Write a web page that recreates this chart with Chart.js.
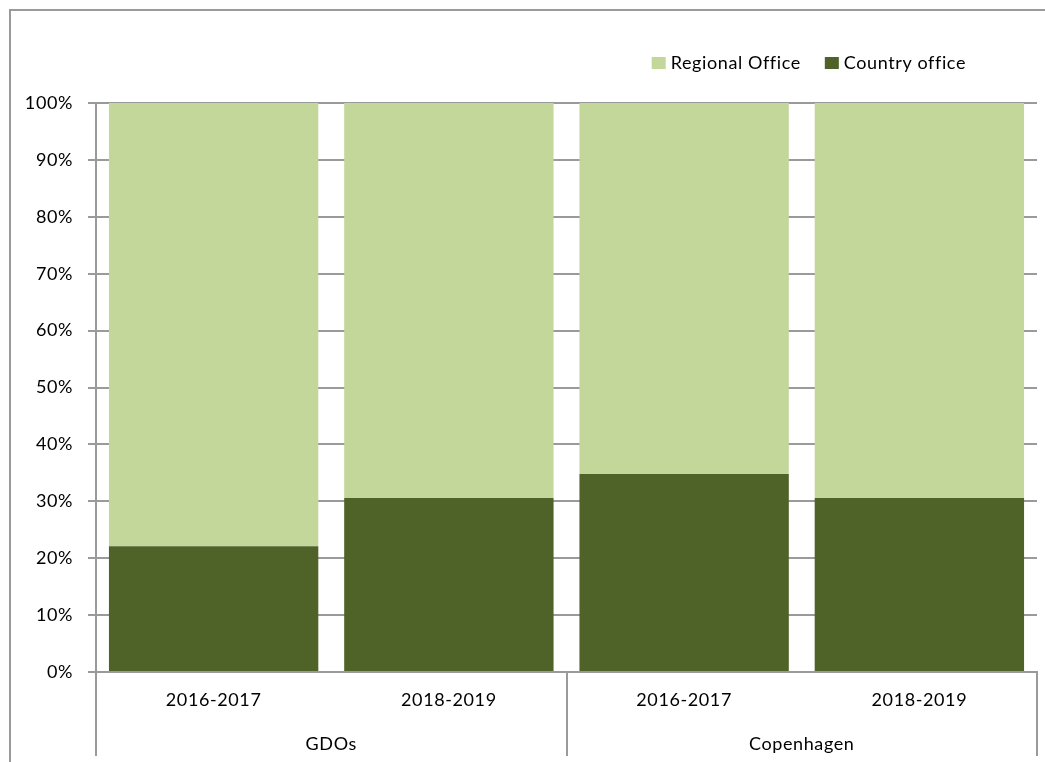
<!DOCTYPE html>
<html><head><meta charset="utf-8">
<script src="https://cdn.jsdelivr.net/npm/chart.js@4.4.1/dist/chart.umd.min.js"></script>
<style>html,body{margin:0;padding:0;background:#fff}#wrap{position:relative;width:1045px;height:762px}</style>
</head><body><div id="wrap"><canvas id="c"></canvas></div>
<script>
const periods = ['2016-2017', '2018-2019', '2016-2017', '2018-2019'];
const groups = ['GDOs', 'Copenhagen'];
const groupOf = [0, 0, 1, 1];
const countryOffice = [22.1, 30.6, 34.8, 30.6];
const regionalOffice = [77.9, 69.4, 65.2, 69.4];
const seriesNames = ['Country office', 'Regional Office'];
const legendOrder = [1, 0];

const FONT = 'Lato, "Open Sans", sans-serif';
const FS = 18;
const LS = '0.6px';
const GRID = '#9a9a9a';

const spacingPlugin = {
  id: 'spacing',
  beforeUpdate(chart) { chart.ctx.letterSpacing = LS; },
  beforeDraw(chart) { chart.ctx.letterSpacing = LS; }
};

const framePlugin = {
  id: 'frame',
  beforeDraw(chart) {
    const ctx = chart.ctx;
    ctx.save();
    ctx.fillStyle = '#fff';
    ctx.fillRect(0, 0, chart.width, chart.height);
    ctx.strokeStyle = GRID;
    ctx.lineWidth = 2;
    ctx.beginPath();
    ctx.moveTo(10, chart.height);
    ctx.lineTo(10, 10);
    ctx.lineTo(chart.width, 10);
    ctx.stroke();
    ctx.restore();
  }
};

const groupAxisPlugin = {
  id: 'groupAxis',
  afterDraw(chart) {
    const xs = chart.scales.x, area = chart.chartArea, ctx = chart.ctx;
    const half = (xs.getPixelForValue(1) - xs.getPixelForValue(0)) / 2;
    const bounds = new Set();
    ctx.save();
    ctx.font = FS + 'px ' + FONT;
    ctx.fillStyle = '#000';
    ctx.textAlign = 'center';
    ctx.textBaseline = 'middle';
    groups.forEach((g, gi) => {
      const idx = groupOf.map((v, i) => v === gi ? i : -1).filter(i => i >= 0);
      const l = xs.getPixelForValue(idx[0]) - half;
      const r = xs.getPixelForValue(idx[idx.length - 1]) + half;
      ctx.fillText(g, (l + r) / 2, area.bottom + 72);
      bounds.add(Math.round(l)); bounds.add(Math.round(r));
    });
    ctx.strokeStyle = GRID;
    ctx.lineWidth = 2;
    bounds.forEach(x => {
      ctx.beginPath();
      ctx.moveTo(x, area.bottom);
      ctx.lineTo(x, area.bottom + 84);
      ctx.stroke();
    });
    ctx.restore();
  }
};

const legendPlugin = {
  id: 'customLegend',
  afterDraw(chart) {
    const ctx = chart.ctx;
    ctx.save();
    ctx.font = FS + 'px ' + FONT;
    ctx.textBaseline = 'middle';
    ctx.textAlign = 'left';
    const box = 14, gapT = 5, gapI = 24, endX = 966, cy = 63;
    const items = legendOrder.map(i => ({ ds: chart.data.datasets[i] }));
    let total = 0;
    items.forEach((it, k) => {
      it.w = ctx.measureText(it.ds.label).width;
      total += box + gapT + it.w + (k ? gapI : 0);
    });
    let x = endX - total;
    items.forEach(it => {
      ctx.fillStyle = it.ds.backgroundColor;
      ctx.fillRect(x, cy - 6, box, 12);
      ctx.fillStyle = '#000';
      ctx.fillText(it.ds.label, x + box + gapT, cy);
      x += box + gapT + it.w + gapI;
    });
    ctx.restore();
  }
};

new Chart(document.getElementById('c'), {
  type: 'bar',
  data: {
    labels: periods,
    datasets: [
      { label: seriesNames[0], data: countryOffice, backgroundColor: '#4F6228' },
      { label: seriesNames[1], data: regionalOffice, backgroundColor: '#C4D79B' }
    ]
  },
  options: {
    responsive: true,
    maintainAspectRatio: false,
    animation: false,
    devicePixelRatio: 1,
    layout: { padding: { left: 10, right: 8, top: 103, bottom: 52 } },
    datasets: { bar: { categoryPercentage: 0.89, barPercentage: 1.0, borderWidth: 0 } },
    plugins: { legend: { display: false }, tooltip: { enabled: false } },
    scales: {
      x: {
        stacked: true,
        grid: { display: false, drawTicks: false },
        border: { display: true, color: GRID, width: 2 },
        ticks: { color: '#000', font: { family: FONT, size: FS }, padding: 17, maxRotation: 0 },
        afterFit(s) { s.height = 38; }
      },
      y: {
        stacked: true,
        min: 0, max: 100,
        grid: { color: GRID, lineWidth: 2, tickLength: 8 },
        border: { display: true, color: GRID, width: 2 },
        ticks: { stepSize: 10, padding: 15, color: '#000', font: { family: FONT, size: FS }, callback: v => v + '%' },
        afterFit(s) { s.width = 86; }
      }
    }
  },
  plugins: [spacingPlugin, framePlugin, groupAxisPlugin, legendPlugin]
});
</script></body></html>
